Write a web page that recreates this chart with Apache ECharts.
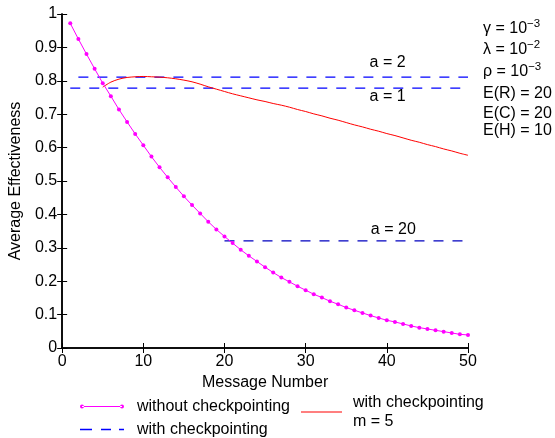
<!DOCTYPE html>
<html>
<head>
<meta charset="utf-8">
<script src="https://cdn.jsdelivr.net/npm/echarts@6/dist/echarts.min.js"></script>
<style>
html,body{margin:0;padding:0;background:#fff;}
#c{width:555px;height:438px;}
</style>
</head>
<body>
<div id="c"></div>
<script>
// ---- data ----
var xTicks = [0, 10, 20, 30, 40, 50];
var yTicks = [0, 0.1, 0.2, 0.3, 0.4, 0.5, 0.6, 0.7, 0.8, 0.9, 1];
var msgNumbers = [];
for (var i = 1; i <= 50; i++) msgNumbers.push(i);
var withoutCkpt = [0.972,0.925,0.880,0.836,0.793,0.754,0.714,0.677,0.641,0.607,
                   0.573,0.541,0.511,0.482,0.454,0.428,0.403,0.378,0.355,0.334,
                   0.314,0.294,0.276,0.259,0.242,0.226,0.211,0.198,0.185,0.173,
                   0.161,0.151,0.140,0.131,0.121,0.113,0.105,0.097,0.090,0.083,
                   0.078,0.072,0.066,0.061,0.057,0.053,0.049,0.045,0.041,0.039];
var m5Start = 5;
var withCkptM5 = [0.781,0.796,0.805,0.810,0.812,0.813,0.812,0.811,0.809,0.806,
                  0.802,0.797,0.790,0.782,0.775,0.768,0.761,0.755,0.749,0.743,
                  0.738,0.732,0.727,0.721,0.714,0.708,0.701,0.695,0.688,0.682,
                  0.675,0.668,0.662,0.655,0.649,0.642,0.636,0.629,0.622,0.616,
                  0.609,0.603,0.596,0.590,0.583,0.577];
var levelA1 = {a: 1, from: 1, to: 50, value: 0.778};
var levelA2 = {a: 2, from: 2, to: 50, value: 0.811};
var levelA20 = {a: 20, from: 20, to: 50, value: 0.321};
var legendNames = ['without checkpointing', 'with checkpointing', 'with checkpointing\nm = 5'];
var params = [
  {sym: 'γ', base: '10', exp: '−3'},
  {sym: 'λ', base: '10', exp: '−2'},
  {sym: 'ρ', base: '10', exp: '−3'},
  {sym: 'E(R)', base: '20'},
  {sym: 'E(C)', base: '20'},
  {sym: 'E(H)', base: '10'}
];

// ---- build ----
var FONT = '"Liberation Sans", Arial, Helvetica, sans-serif';
var FS = 16;
function pairs(xs, ys) { return xs.map(function (x, k) { return [x, ys[k]]; }); }
var m5X = withCkptM5.map(function (_, k) { return m5Start + k; });
function level(l) { return [[l.from, l.value], [l.to, l.value]]; }

var chart = echarts.init(document.getElementById('c'), null, {renderer: 'canvas'});

var axisCommon = {
  axisLine: {show: true, lineStyle: {color: '#000', width: 1.5}},
  axisTick: {show: true, inside: true, length: 5, lineStyle: {color: '#000', width: 1}},
  splitLine: {show: false}
};

function dashSeries(name, l, color, labelText, labelCoord) {
  return {
    name: name, type: 'line', xAxisIndex: 0, yAxisIndex: 0,
    data: level(l), showSymbol: false, symbol: 'none',
    lineStyle: {color: color, width: 1.3, type: [10, 9]},
    itemStyle: {color: color},
    silent: true, z: 3,
    markPoint: {
      symbol: 'rect', symbolSize: 0, silent: true,
      label: {show: true, position: 'inside', formatter: labelText, color: '#000', fontSize: FS, fontFamily: FONT},
      data: [{coord: labelCoord}]
    }
  };
}

var paramGraphics = params.map(function (p, k) {
  var tops = [18, 39, 61, 86, 106, 123];
  var txt = '{m|' + p.sym + ' = ' + p.base + '}' + (p.exp ? '{s|' + p.exp + '}' : '');
  return {
    type: 'text', left: 483, top: tops[k],
    style: {
      text: txt, fontFamily: FONT, fontSize: FS, fill: '#000',
      rich: {
        m: {fontSize: FS, fontFamily: FONT, fill: '#000', verticalAlign: 'bottom'},
        s: {fontSize: 11.5, fontFamily: FONT, fill: '#000', verticalAlign: 'bottom', padding: [0, 0, 7, 0]}
      }
    }
  };
});

var ICON_DOTLINE = 'path://M0,2a2,2 0 1,0 4,0a2,2 0 1,0 -4,0zM40,2a2,2 0 1,0 4,0a2,2 0 1,0 -4,0zM2,1.5h40v1h-40z';
var ICON_DASH = 'path://M0,0h12v1.4h-12zM21,0h10v1.4h-10zM39,0h5v1.4h-5z';
var ICON_LINE = 'path://M0,0h41v1.2h-41z';

var option = {
  backgroundColor: '#fff',
  animation: false,
  textStyle: {fontFamily: FONT},
  grid: {left: 60, top: 14, width: 408, height: 334, show: false},
  xAxis: [
    Object.assign({}, axisCommon, {
      type: 'value', min: xTicks[0], max: xTicks[xTicks.length - 1], interval: 10, position: 'bottom',
      name: 'Message Number', nameLocation: 'middle', nameGap: 27,
      nameTextStyle: {fontSize: FS, color: '#000', fontFamily: FONT},
      axisLabel: {color: '#000', fontSize: FS, fontFamily: FONT, margin: 6}
    }),
    Object.assign({}, axisCommon, {
      type: 'value', min: 0, max: 50, interval: 10, position: 'top',
      axisLabel: {show: false}
    })
  ],
  yAxis: [
    Object.assign({}, axisCommon, {
      type: 'value', min: yTicks[0], max: yTicks[yTicks.length - 1], interval: 0.1, position: 'left',
      name: 'Average Effectiveness', nameLocation: 'middle', nameGap: 33,
      nameTextStyle: {fontSize: FS, color: '#000', fontFamily: FONT},
      axisLabel: {color: '#000', fontSize: FS, fontFamily: FONT, margin: 5,
        formatter: function (v) { return String(Math.round(v * 10) / 10); }}
    }),
    Object.assign({}, axisCommon, {
      type: 'value', min: 0, max: 1, interval: 0.1, position: 'right',
      axisLabel: {show: false}
    })
  ],
  legend: [
    {
      orient: 'vertical', left: 80, top: 397, height: 60, padding: 0, itemGap: 4,
      itemWidth: 44, itemHeight: 10, symbolKeepAspect: true,
      itemStyle: {borderWidth: 0},
      data: [{name: legendNames[0], icon: ICON_DOTLINE}, {name: legendNames[1], icon: ICON_DASH}],
      textStyle: {fontSize: FS, color: '#000', fontFamily: FONT, lineHeight: 19, padding: [0, 0, 0, 8]},
      selectedMode: false
    },
    {
      orient: 'vertical', left: 301, top: 393, height: 60, padding: 0,
      itemWidth: 41, itemHeight: 10, symbolKeepAspect: true,
      itemStyle: {borderWidth: 0},
      data: [{name: legendNames[2], icon: ICON_LINE}],
      textStyle: {fontSize: FS, color: '#000', fontFamily: FONT, lineHeight: 19, padding: [0, 0, 0, 6]},
      selectedMode: false
    }
  ],
  graphic: paramGraphics,
  series: [
    dashSeries('a = 2', levelA2, '#0000ff', 'a = 2', [40.1, 0.854]),
    dashSeries(legendNames[1], levelA1, '#0000ff', 'a = 1', [40.1, 0.752]),
    dashSeries('a = 20', levelA20, '#0000c0', 'a = 20', [40.8, 0.354]),
    {
      name: legendNames[2], type: 'line', data: pairs(m5X, withCkptM5),
      smooth: 0.3, showSymbol: false, symbol: 'none',
      lineStyle: {color: '#ff0000', width: 1}, itemStyle: {color: '#ff0000'}, z: 4
    },
    {
      name: legendNames[0], type: 'line', data: pairs(msgNumbers, withoutCkpt),
      symbol: 'circle', symbolSize: 4, showSymbol: true,
      lineStyle: {color: '#ff00ff', width: 1}, itemStyle: {color: '#ff00ff'}, z: 5
    }
  ]
};
chart.setOption(option);
</script>
</body>
</html>
